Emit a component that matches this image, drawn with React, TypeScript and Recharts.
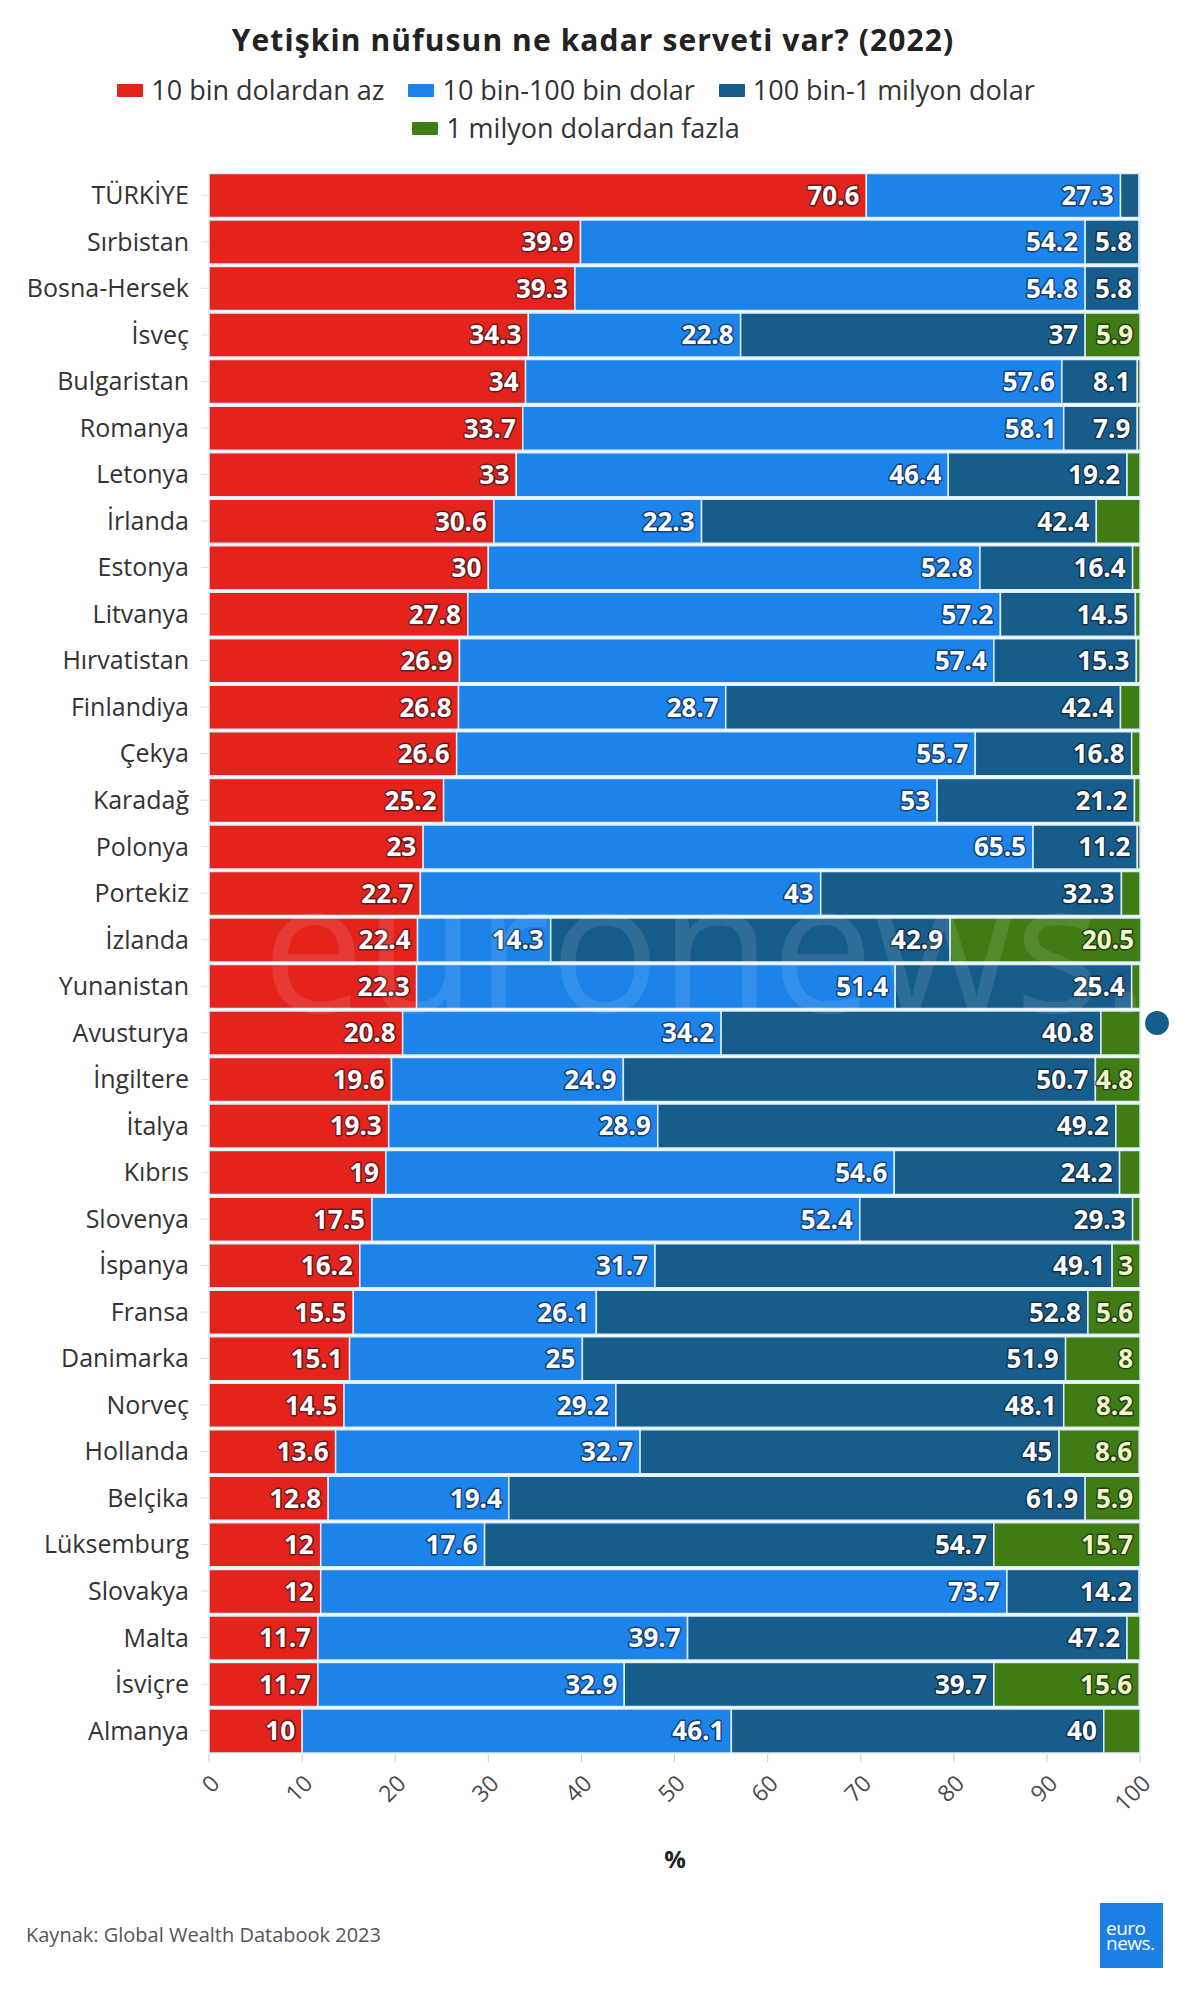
import { BarChart, Bar, XAxis, YAxis, LabelList } from 'recharts'

const countries = [
  'TÜRKİYE', 'Sırbistan', 'Bosna-Hersek', 'İsveç', 'Bulgaristan', 'Romanya', 'Letonya', 'İrlanda',
  'Estonya', 'Litvanya', 'Hırvatistan', 'Finlandiya', 'Çekya', 'Karadağ', 'Polonya', 'Portekiz',
  'İzlanda', 'Yunanistan', 'Avusturya', 'İngiltere', 'İtalya', 'Kıbrıs', 'Slovenya', 'İspanya',
  'Fransa', 'Danimarka', 'Norveç', 'Hollanda', 'Belçika', 'Lüksemburg', 'Slovakya', 'Malta',
  'İsviçre', 'Almanya',
]

// % of adults in each wealth band
const under10k = [
  70.6, 39.9, 39.3, 34.3, 34, 33.7, 33, 30.6, 30, 27.8, 26.9, 26.8, 26.6, 25.2, 23, 22.7,
  22.4, 22.3, 20.8, 19.6, 19.3, 19, 17.5, 16.2, 15.5, 15.1, 14.5, 13.6, 12.8, 12, 12, 11.7, 11.7, 10,
]
const from10kTo100k = [
  27.3, 54.2, 54.8, 22.8, 57.6, 58.1, 46.4, 22.3, 52.8, 57.2, 57.4, 28.7, 55.7, 53, 65.5, 43,
  14.3, 51.4, 34.2, 24.9, 28.9, 54.6, 52.4, 31.7, 26.1, 25, 29.2, 32.7, 19.4, 17.6, 73.7, 39.7, 32.9, 46.1,
]
const from100kTo1m = [
  2.0, 5.8, 5.8, 37, 8.1, 7.9, 19.2, 42.4, 16.4, 14.5, 15.3, 42.4, 16.8, 21.2, 11.2, 32.3,
  42.9, 25.4, 40.8, 50.7, 49.2, 24.2, 29.3, 49.1, 52.8, 51.9, 48.1, 45, 61.9, 54.7, 14.2, 47.2, 39.7, 40,
]
const over1m = [
  0.1, 0.1, 0.1, 5.9, 0.3, 0.3, 1.4, 4.7, 0.8, 0.5, 0.4, 2.1, 0.9, 0.6, 0.3, 2.0,
  20.5, 0.9, 4.2, 4.8, 2.6, 2.2, 0.8, 3, 5.6, 8, 8.2, 8.6, 5.9, 15.7, 0.1, 1.4, 15.6, 3.9,
]

const xTicks = [0, 10, 20, 30, 40, 50, 60, 70, 80, 90, 100]

const series = [
  { key: 'a', name: '10 bin dolardan az', color: '#E5231D', text: '#ffffff' },
  { key: 'b', name: '10 bin-100 bin dolar', color: '#1C83EA', text: '#ffffff' },
  { key: 'c', name: '100 bin-1 milyon dolar', color: '#175D8C', text: '#ffffff' },
  { key: 'd', name: '1 milyon dolardan fazla', color: '#3F7C14', text: '#F1F8C8' },
]

const data = countries.map((country, i) => ({
  country,
  a: under10k[i],
  b: from10kTo100k[i],
  c: from100kTo1m[i],
  d: over1m[i],
}))

const LABEL_FONT = 26
const textWidth = (s: string) =>
  [...s].reduce((w, ch) => w + (ch === '.' ? 0.285 : 0.572) * LABEL_FONT, 0)

const renderLabel = (fill: string) => (props: any) => {
  const { x, y, width, height, value } = props
  const txt = String(value)
  if (width < textWidth(txt) + 7) return null
  return (
    <text
      x={x + width - 7}
      y={y + height / 2}
      dy="0.36em"
      textAnchor="end"
      fontSize={LABEL_FONT}
      fontWeight={700}
      fontFamily="Open Sans"
      fill={fill}
      stroke="rgba(20,20,30,0.6)"
      strokeWidth={3}
      paintOrder="stroke"
      strokeLinejoin="round"
    >
      {txt}
    </text>
  )
}

const XTick = ({ x, y, payload }: any) => (
  <text
    x={x + 12}
    y={y + 21}
    transform={`rotate(-45, ${x + 12}, ${y + 21})`}
    textAnchor="end"
    fontSize={23}
    fontFamily="Open Sans"
    fill="#4a4a4a"
  >
    {payload.value}
  </text>
)

export default function App() {
  return (
    <div style={{
      position: 'absolute', left: 0, top: 0, width: 1200, height: 2002,
      background: '#fff', fontFamily: '"Open Sans", sans-serif', overflow: 'hidden',
    }}>
      <div style={{
        position: 'absolute', top: 19, left: 0, width: 1186, textAlign: 'center',
        fontSize: 30, fontWeight: 700, lineHeight: '42px', color: '#222', letterSpacing: 1.1,
      }}>
        Yetişkin nüfusun ne kadar serveti var? (2022)
      </div>

      <div style={{
        position: 'absolute', top: 71, left: 76, width: 1000, display: 'flex', flexWrap: 'wrap',
        justifyContent: 'center', columnGap: 24, fontSize: 27, lineHeight: '38px', color: '#333',
      }}>
        {series.map(s => (
          <div key={s.key} style={{ display: 'flex', alignItems: 'center' }}>
            <span style={{ display: 'inline-block', width: 26, height: 13, background: s.color, marginRight: 8, borderRadius: 1 }} />
            <span>{s.name}</span>
          </div>
        ))}
      </div>

      <div style={{ position: 'absolute', top: 0, left: 0 }}>
        <BarChart
          width={1200}
          height={1830}
          data={data}
          layout="vertical"
          margin={{ top: 172, right: 59, left: 0, bottom: 16 }}
          barCategoryGap={1.5}
        >
          <XAxis
            type="number"
            domain={[0, 100]}
            ticks={xTicks}
            interval={0}
            tick={<XTick />}
            tickLine={{ stroke: '#ccc' }}
            tickSize={8}
            axisLine={false}
            height={60}
          />
          <YAxis
            type="category"
            dataKey="country"
            width={209}
            interval={0}
            tick={{ fill: '#333', fontSize: 25, fontFamily: 'Open Sans' }}
            tickLine={{ stroke: '#ddd' }}
            tickSize={8}
            tickMargin={12}
            axisLine={false}
          />
          {series.map(s => (
            <Bar
              key={s.key}
              dataKey={s.key}
              name={s.name}
              stackId="w"
              fill={s.color}
              stroke="#dcedfa"
              strokeWidth={1.5}
              isAnimationActive={false}
            >
              <LabelList dataKey={s.key} content={renderLabel(s.text)} />
            </Bar>
          ))}
        </BarChart>
      </div>

      {/* watermark */}
      <div style={{
        position: 'absolute', top: 850, left: 262, fontSize: 182, lineHeight: 1,
        color: 'rgba(255,255,255,0.1)', pointerEvents: 'none', whiteSpace: 'nowrap',
      }}>
        euronews.
      </div>
      <div style={{
        position: 'absolute', left: 1145, top: 1011, width: 24, height: 24,
        borderRadius: 12, background: '#175D8C',
      }} />

      <div style={{
        position: 'absolute', top: 1844, left: 575, width: 200, textAlign: 'center',
        fontSize: 24, fontWeight: 700, lineHeight: '30px', color: '#222',
      }}>
        %
      </div>

      <div style={{
        position: 'absolute', top: 1922, left: 26, fontSize: 20, lineHeight: '26px', color: '#555',
      }}>
        Kaynak: Global Wealth Databook 2023
      </div>

      <div style={{
        position: 'absolute', left: 1100, top: 1903, width: 63, height: 65, background: '#1B7FE6',
        color: '#fff', fontSize: 19, lineHeight: '15px', display: 'flex', flexDirection: 'column',
        justifyContent: 'center', paddingLeft: 6, boxSizing: 'border-box', letterSpacing: -0.5,
      }}>
        <span>euro</span>
        <span>news.</span>
      </div>
    </div>
  )
}
